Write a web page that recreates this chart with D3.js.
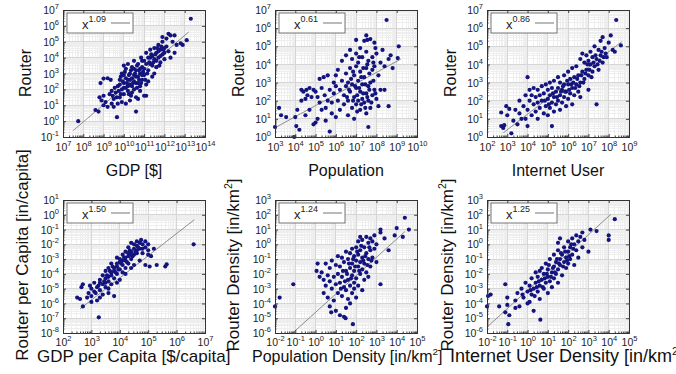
<!DOCTYPE html>
<html>
<head>
<meta charset="utf-8">
<script src="https://cdn.jsdelivr.net/npm/d3@7"></script>
<style>
  body { margin: 0; background: #fff; }
  text { font-family: "Liberation Sans", Arial, sans-serif; }
</style>
</head>
<body>
<svg id="chart" width="676" height="374"></svg>
<script>
// Values are log10 exponents: [x, y]
const gdpRouter = [
  [7.75,0.0],[8.6,0.7],[8.75,0.6],[8.85,2.4],[8.9,1.3],[9.0,1.6],[9.1,1.2],[9.0,2.68],[9.2,2.7],[9.35,2.6],
  [9.3,1.7],[9.4,1.1],[9.5,1.4],[9.2,0.9],[9.66,0.25],[9.0,1.0],[8.8,1.5],[9.4,1.9],[9.5,0.9],[9.7,1.1],
  [9.6,1.8],[9.7,2.2],[9.8,1.5],[9.8,2.6],[9.8,2.3],[9.9,2.0],[9.9,3.0],[9.9,1.2],[10.0,1.7],[10.0,2.4],
  [10.0,2.9],[10.0,3.5],[10.0,2.1],[10.1,2.1],[10.1,3.3],[10.1,1.1],[10.1,2.7],[10.2,1.9],[10.2,2.6],[10.2,3.6],
  [10.2,2.2],[10.3,2.3],[10.3,3.0],[10.3,1.3],[10.3,2.6],[10.35,1.6],[10.4,2.7],[10.4,3.4],[10.4,1.8],[10.4,2.2],
  [10.5,2.0],[10.5,2.9],[10.5,3.8],[10.5,2.5],[10.5,3.3],[10.6,2.4],[10.6,3.2],[10.6,1.5],[10.6,0.6],[10.6,2.8],
  [10.7,1.4],[10.7,2.8],[10.7,3.6],[10.7,2.4],[10.8,2.2],[10.8,3.0],[10.8,1.9],[10.8,3.3],[10.85,4.0],[10.9,2.6],
  [10.9,3.4],[10.9,2.9],[10.9,3.8],[11.0,1.6],[11.0,2.9],[11.0,3.8],[11.0,3.3],[11.1,2.3],[11.1,4.3],[11.1,1.6],
  [11.1,3.6],[11.2,3.2],[11.2,4.0],[11.2,2.5],[11.3,3.6],[11.3,4.5],[11.3,4.0],[11.4,2.8],[11.4,4.1],[11.4,3.5],
  [11.5,3.9],[11.5,4.6],[11.5,3.0],[11.6,3.4],[11.6,4.3],[11.6,3.8],[11.7,4.0],[11.7,4.8],[11.7,4.4],[11.8,3.7],
  [11.8,4.5],[11.8,4.1],[11.9,4.2],[11.9,5.0],[11.9,5.3],[12.0,3.9],[12.0,4.6],[12.0,4.3],[12.1,5.2],[12.1,4.7],
  [12.2,4.4],[12.2,5.5],[12.3,5.4],[12.3,4.0],[12.4,5.0],[12.5,4.3],[12.5,5.4],[12.6,4.8],[12.8,4.9],[12.9,4.8],
  [13.1,5.1],[13.3,6.45],
  [9.85,2.8],[9.95,2.5],[10.05,3.1],[10.15,2.4],[10.25,2.9],[10.25,1.7],[10.35,3.2],[10.45,2.4],[10.55,3.0],[10.65,2.1],
  [10.65,3.5],[10.75,2.6],[10.75,3.2],[10.85,2.4],[10.95,3.1],[11.05,2.6],[11.15,3.0],[11.25,3.7],[11.35,4.2],[11.45,3.7],
  [11.55,4.2],[11.65,4.6],[11.75,3.5],[11.85,4.7],[11.95,4.5],[9.55,2.1],[9.65,1.5],[9.75,1.9],[9.85,1.7],[9.45,1.6]
];
const popRouter = [
  [3.0,0.55],[3.2,1.6],[3.3,1.2],[3.55,1.1],[3.95,0.0],[4.0,1.1],[4.05,0.6],[4.1,1.5],[4.2,0.4],[4.3,2.0],
  [4.3,2.6],[4.4,2.5],[4.5,1.2],[4.5,2.1],[4.55,2.6],[4.6,2.3],[4.7,1.5],[4.7,2.7],[4.8,2.2],[4.9,0.7],
  [4.9,2.6],[5.0,0.8],[5.0,2.5],[5.1,1.0],[5.1,2.2],[5.2,1.9],[5.2,3.2],[5.3,1.5],[5.3,2.7],[5.4,3.3],
  [5.45,2.3],[5.5,0.9],[5.5,1.6],[5.6,2.0],[5.6,3.4],[5.7,0.3],[5.7,2.6],[5.8,1.3],[5.8,1.9],[5.9,3.0],
  [5.9,2.4],[6.0,1.1],[6.0,3.4],[6.0,2.8],[6.1,2.0],[6.1,3.7],[6.2,2.6],[6.2,1.5],[6.3,3.1],[6.3,4.2],
  [6.4,2.3],[6.4,1.8],[6.5,3.5],[6.5,2.8],[6.5,4.5],[6.6,2.0],[6.6,3.0],[6.6,1.2],[6.7,2.5],[6.7,3.8],
  [6.7,4.8],[6.8,1.6],[6.8,2.9],[6.8,4.3],[6.9,2.2],[6.9,3.4],[6.9,1.0],[7.0,2.7],[7.0,3.9],[7.0,4.6],
  [7.0,1.8],[7.0,5.35],[7.1,2.0],[7.1,3.1],[7.1,4.1],[7.2,2.5],[7.2,3.6],[7.2,1.5],[7.2,4.9],[7.3,2.1],
  [7.3,2.9],[7.3,4.4],[7.4,1.9],[7.4,3.3],[7.4,5.3],[7.5,2.4],[7.5,3.8],[7.5,1.3],[7.5,4.7],[7.5,5.6],
  [7.55,5.35],[7.6,2.8],[7.6,2.0],[7.6,4.2],[7.6,0.55],[7.7,3.0],[7.7,5.4],[7.7,1.6],[7.8,2.3],[7.8,3.7],
  [7.8,4.4],[7.9,2.6],[7.9,5.2],[7.9,3.9],[8.0,2.1],[8.0,4.6],[8.1,3.4],[8.1,1.7],[8.2,4.1],[8.2,2.6],
  [8.3,4.8],[8.4,2.6],[8.4,3.9],[8.5,6.45],[8.6,4.3],[8.6,1.7],[8.7,4.5],[8.8,3.8],[9.05,4.35],[9.1,5.0],
  [6.55,2.2],[6.65,2.6],[6.75,3.2],[6.85,2.0],[6.95,2.8],[7.05,2.3],[7.15,2.7],[7.25,1.8],[7.35,2.4],[7.45,2.9],
  [7.55,2.2],[7.65,2.6],[7.75,1.9],[7.85,3.1],[7.95,2.4],[7.25,3.3],[7.45,1.6],[7.05,1.4],[6.85,3.6],[7.35,3.8],
  [7.65,3.5],[7.85,4.1],[7.15,4.4],[7.55,4.0],[7.95,4.9]
];
const userRouter = [
  [2.7,1.35],[2.7,0.6],[2.85,0.65],[3.0,1.2],[3.1,1.55],[3.2,0.2],[2.95,1.7],[2.8,0.5],[3.3,0.9],[3.4,1.5],
  [3.5,0.7],[3.6,1.3],[3.6,2.0],[3.7,1.0],[3.8,1.7],[3.9,1.0],[3.9,2.3],[4.0,3.3],[4.0,1.5],[4.0,0.6],
  [4.1,2.0],[4.1,2.6],[4.2,1.2],[4.2,2.3],[4.3,1.8],[4.3,2.7],[4.4,1.4],[4.4,2.2],[4.5,1.9],[4.5,2.6],
  [4.5,1.0],[4.6,2.3],[4.6,1.6],[4.7,2.0],[4.7,2.8],[4.8,1.3],[4.8,2.4],[4.9,1.7],[4.9,2.9],[5.0,2.1],
  [5.0,1.2],[5.0,2.6],[5.1,1.6],[5.1,3.0],[5.1,2.3],[5.2,0.6],[5.2,1.9],[5.2,2.7],[5.3,1.4],[5.3,2.2],
  [5.3,3.1],[5.4,2.5],[5.4,1.8],[5.5,2.0],[5.5,3.3],[5.5,2.7],[5.6,1.5],[5.6,2.3],[5.6,3.0],[5.7,2.6],
  [5.7,1.9],[5.8,2.2],[5.8,3.4],[5.8,2.9],[5.9,1.7],[5.9,2.5],[6.0,2.9],[6.0,3.6],[6.0,2.1],[6.1,2.4],
  [6.1,3.2],[6.2,2.7],[6.2,3.8],[6.2,1.8],[6.3,2.3],[6.3,3.3],[6.4,2.9],[6.4,3.9],[6.5,2.5],[6.5,3.4],
  [6.6,3.0],[6.6,4.3],[6.6,2.2],[6.7,3.6],[6.7,4.6],[6.8,3.2],[6.8,4.1],[6.9,3.7],[6.9,4.5],[7.0,3.4],
  [7.0,4.2],[7.0,2.6],[7.1,4.0],[7.1,4.7],[7.2,3.6],[7.2,4.4],[7.3,3.9],[7.3,5.0],[7.4,4.3],[7.4,1.8],
  [7.5,3.7],[7.5,4.8],[7.6,4.5],[7.6,5.3],[7.7,4.1],[7.7,5.5],[7.8,4.9],[7.9,4.4],[8.0,5.2],[8.1,5.6],
  [8.2,4.8],[8.37,6.45],[8.3,4.7],[8.6,5.05],
  [5.65,2.5],[5.75,2.8],[5.85,2.5],[5.95,3.1],[6.05,2.6],[6.15,2.9],[6.25,3.0],[6.35,2.7],[6.45,3.2],[6.55,2.8],
  [6.65,3.4],[6.75,3.0],[6.85,3.5],[6.95,4.0],[7.05,3.7],[7.15,3.3],[7.25,4.1],[7.35,4.5],[7.45,4.0],[7.55,4.2],
  [7.65,4.7],[7.75,4.4],[7.85,4.6],[4.85,2.0],[5.05,1.8],[5.25,2.4],[5.45,2.2]
];
const gdpCapRouterCap = [
  [2.5,-5.6],[2.6,-5.7],[2.7,-4.7],[2.65,-4.9],[2.7,-6.2],[3.26,-6.94],[2.9,-5.3],[3.0,-5.0],[3.0,-5.5],[3.0,-5.9],
  [3.1,-4.6],[3.1,-5.2],[3.2,-4.9],[3.2,-5.8],[3.3,-4.4],[3.3,-5.1],[3.3,-4.6],[3.3,-5.6],[3.4,-4.7],[3.4,-4.1],
  [3.4,-5.4],[3.5,-4.3],[3.5,-4.9],[3.5,-3.8],[3.5,-4.6],[3.6,-4.5],[3.6,-3.6],[3.6,-5.0],[3.6,-4.2],[3.6,-5.3],
  [3.7,-4.1],[3.7,-3.3],[3.7,-4.7],[3.7,-3.9],[3.8,-3.8],[3.8,-5.5],[3.8,-4.3],[3.8,-3.6],[3.9,-3.5],[3.9,-4.0],
  [3.9,-2.9],[3.9,-3.3],[3.9,-4.6],[4.0,-3.7],[4.0,-3.2],[4.0,-4.4],[4.0,-3.0],[4.1,-3.4],[4.1,-2.7],[4.1,-3.9],
  [4.1,-3.1],[4.2,-3.1],[4.2,-2.5],[4.2,-3.6],[4.2,-2.9],[4.2,-4.0],[4.3,-2.8],[4.3,-2.2],[4.3,-3.3],[4.3,-2.6],
  [4.4,-2.5],[4.4,-3.0],[4.4,-1.9],[4.4,-2.7],[4.4,-3.6],[4.5,-2.3],[4.5,-2.7],[4.5,-3.4],[4.5,-2.0],[4.6,-2.1],
  [4.6,-2.6],[4.6,-1.8],[4.6,-2.4],[4.7,-2.3],[4.7,-3.1],[4.7,-1.9],[4.75,-1.7],[4.8,-2.0],[4.8,-2.6],[4.8,-2.3],
  [4.9,-2.2],[4.9,-3.4],[4.9,-1.8],[5.0,-2.4],[5.0,-2.0],[5.0,-2.7],[5.1,-2.8],[5.05,-3.5],[5.2,-2.3],[5.3,-3.4],
  [5.6,-3.5],[5.65,-3.35],[6.6,-2.0],
  [3.45,-4.5],[3.55,-4.1],[3.65,-3.8],[3.75,-3.5],[3.85,-3.9],[3.95,-3.7],[4.05,-3.3],[4.15,-2.9],[4.25,-3.2],[4.35,-2.4],
  [4.45,-2.8],[4.55,-2.5],[4.65,-2.2],[3.15,-5.3],[3.25,-4.8],[2.85,-5.6],[2.95,-4.8]
];
const popDensRouterDens = [
  [-2.0,-4.2],[-1.77,-3.6],[-1.1,-2.7],[0.05,-1.8],[0.1,-1.3],[0.2,-2.2],[0.3,-1.9],[0.4,-2.4],[0.4,-3.3],[0.5,-1.3],
  [0.5,-2.8],[0.6,-2.1],[0.6,-3.6],[0.7,-1.6],[0.7,-2.5],[0.7,-4.2],[0.77,-4.6],[0.8,-3.0],[0.8,-1.1],[0.9,-2.2],
  [0.9,-3.8],[1.0,-2.7],[1.0,-1.4],[1.0,-4.5],[1.1,-0.8],[1.1,-2.0],[1.1,-3.3],[1.2,-1.5],[1.2,-2.6],[1.2,-4.8],
  [1.3,-0.9],[1.3,-2.2],[1.3,-3.5],[1.4,-1.2],[1.4,-2.9],[1.4,-4.9],[1.48,-5.0],[1.5,-0.5],[1.5,-1.8],[1.5,-3.1],
  [1.5,-4.3],[1.6,-1.0],[1.6,-2.4],[1.6,-3.7],[1.7,-0.6],[1.7,-1.6],[1.7,-2.8],[1.7,-4.0],[1.8,-0.3],[1.8,-1.3],
  [1.8,-2.1],[1.8,-3.3],[1.84,-5.4],[1.9,-0.8],[1.9,-1.8],[1.9,-2.6],[1.9,-3.0],[2.0,-0.2],[2.0,-1.1],[2.0,-2.3],
  [2.0,-3.6],[2.1,0.2],[2.1,-0.7],[2.1,-1.5],[2.1,-2.8],[2.2,-0.4],[2.2,-1.2],[2.2,-2.0],[2.2,0.5],[2.3,0.3],
  [2.3,-0.9],[2.3,-1.7],[2.3,-3.1],[2.4,-0.2],[2.4,-1.3],[2.4,-2.4],[2.5,0.5],[2.5,-0.6],[2.5,-1.9],[2.6,0.1],
  [2.6,-1.0],[2.6,-2.2],[2.7,0.4],[2.7,-0.4],[2.7,-1.5],[2.8,0.2],[2.8,-0.9],[2.9,-0.3],[2.9,0.6],[3.0,-1.2],
  [3.0,0.0],[3.2,1.0],[3.2,0.8],[3.2,-2.7],[3.4,0.4],[3.6,-0.4],[3.9,0.6],[4.0,1.1],[4.3,0.5],[4.4,1.8],[4.6,1.0],
  [1.55,-2.0],[1.65,-1.3],[1.75,-2.3],[1.85,-1.0],[1.95,-1.5],[2.05,-0.5],[2.15,-1.8],[2.25,-0.1],[2.35,-1.1],[2.45,-0.8],
  [2.55,-1.4],[1.45,-2.5],[1.35,-1.8],[1.25,-3.0],[2.65,-0.2],[2.75,-1.1]
];
const userDensRouterDens = [
  [-1.95,-3.5],[-1.82,-3.4],[-2.0,-4.2],[-1.4,-4.2],[-1.1,-2.7],[-1.0,-3.6],[-1.0,-4.1],[-0.9,-4.8],[-1.1,-4.6],[-0.95,-5.4],
  [-0.6,-3.8],[-0.6,-4.3],[-0.5,-3.3],[-0.4,-4.2],[-0.3,-3.0],[-0.25,-3.4],[-0.2,-3.6],[-0.1,-2.6],[0.0,-3.2],[0.0,-4.0],
  [0.1,-2.8],[0.1,-3.9],[0.2,-3.4],[0.2,-2.3],[0.3,-3.0],[0.3,-4.5],[0.4,-2.6],[0.4,-1.9],[0.5,-3.2],[0.5,-2.2],
  [0.6,-2.8],[0.6,-3.7],[0.6,-1.8],[0.63,-5.1],[0.7,-2.4],[0.7,-1.6],[0.8,-3.0],[0.8,-2.0],[0.9,-2.6],[0.9,-1.3],
  [1.0,-2.2],[1.0,-3.3],[1.0,-1.7],[1.1,-2.5],[1.1,-1.0],[1.2,-1.9],[1.2,-2.9],[1.3,-1.5],[1.3,-2.3],[1.3,-0.7],
  [1.4,-1.2],[1.4,-2.0],[1.5,-1.7],[1.5,-0.4],[1.5,-2.6],[1.5,0.1],[1.6,-1.0],[1.6,-1.4],[1.6,0.4],[1.7,-0.7],
  [1.7,-2.1],[1.8,-1.2],[1.8,-0.2],[1.9,-0.9],[1.9,-1.6],[2.0,-0.5],[2.0,0.2],[2.0,-1.3],[2.1,-0.2],[2.1,-1.0],
  [2.2,0.4],[2.2,-0.7],[2.3,0.0],[2.3,-1.4],[2.4,0.6],[2.4,-0.4],[2.5,0.2],[2.5,-0.9],[2.6,0.5],[2.7,-0.2],
  [2.7,0.8],[2.8,0.3],[3.0,-0.5],[3.1,1.0],[3.4,0.9],[4.0,0.6],[4.0,0.3],[4.3,1.7],
  [0.75,-2.9],[0.85,-2.3],[0.95,-2.0],[1.05,-1.4],[1.15,-2.2],[1.25,-1.6],[1.35,-1.9],[1.45,-1.0],[1.55,-1.3],[1.65,-0.6],
  [1.75,-1.5],[1.85,-0.5],[1.95,-1.1],[2.05,-0.8],[2.15,0.0],[2.25,-0.3],[0.45,-2.9],[0.55,-2.5],[0.35,-3.5],[0.15,-3.1]
];

const seriesList = [gdpRouter, popRouter, userRouter, gdpCapRouterCap, popDensRouterDens, userDensRouterDens];
const xDomains = [[7,14],[3,10],[2,9],[2,7],[-2,5],[-2,5]];
const yDomains = [[-1,7],[0,7],[0,7],[-8,1],[-6,3],[-6,3]];
const fitExponents = ["1.09","0.61","0.86","1.50","1.24","1.25"];
const fitIntercepts = [-8.77,-1.32,-2.18,-10.27,-4.6,-3.1];
const fitRanges = [[7.5,13.2],[3,9.2],[2.8,8.65],[2.6,6.62],[-1.13,4.4],[-2,4.1]];
const xTitles = [["GDP [$]"],["Population"],["Internet User"],["GDP per Capita [$/capita]"],["Population Density [in/km","2","]"],["Internet User Density [in/km","2","]"]];
const yTitles = [["Router"],["Router"],["Router"],["Router per Capita [in/capita]"],["Router Density [in/km","2","]"],["Router Density [in/km","2","]"]];

// layout (pixels)
const frames = [
  {x:63,y:10,w:142,h:127},{x:275,y:10,w:142,h:127},{x:487,y:10,w:142,h:127},
  {x:63,y:200,w:142,h:133},{x:275,y:200,w:142,h:133},{x:487,y:200,w:142,h:133}
];
const xTitleStyle = [
  {x:134,y:176,size:16,anchor:"middle"},{x:346,y:176,size:16,anchor:"middle"},{x:558,y:176,size:16,anchor:"middle"},
  {x:37,y:362,size:17,anchor:"start"},{x:252,y:362,size:16,anchor:"start"},{x:450,y:362,size:18,anchor:"start"}
];
const yTitleStyle = [
  {x:31,y:73,size:16},{x:244,y:73,size:16},{x:456,y:73,size:16},
  {x:28,y:255,size:17},{x:239,y:265,size:17},{x:453,y:265,size:17}
];

const svg = d3.select("#chart");
const dotColor = "#14147e";

function decadeTicks(lo, hi) {
  const major = d3.range(lo, hi + 1).map(e => Math.pow(10, e));
  const minor = [];
  for (let e = lo; e < hi; e++) {
    for (let m = 2; m <= 9; m++) minor.push(m * Math.pow(10, e));
  }
  return { major, minor };
}

function addPower(sel, size) {
  // turn plain tick text into 10 with a raised exponent
  sel.each(function (d) {
    const t = d3.select(this);
    const e = Math.round(Math.log10(d));
    t.text("10");
    t.append("tspan").attr("dy", -5).attr("font-size", size).text(e);
  });
}

function titleText(g, parts, size) {
  g.append("tspan").text(parts[0]);
  if (parts.length > 1) {
    g.append("tspan").attr("dy", -7).attr("font-size", size * 0.62).text(parts[1]);
    g.append("tspan").attr("dy", 7).text(parts[2]);
  }
}

function drawPanel(i) {
  const f = frames[i];
  const [xl, xh] = xDomains[i];
  const [yl, yh] = yDomains[i];
  const x = d3.scaleLog().domain([Math.pow(10, xl), Math.pow(10, xh)]).range([f.x, f.x + f.w]);
  const y = d3.scaleLog().domain([Math.pow(10, yl), Math.pow(10, yh)]).range([f.y + f.h, f.y]);
  const xt = decadeTicks(xl, xh);
  const yt = decadeTicks(yl, yh);
  const g = svg.append("g");

  g.append("rect").attr("x", f.x).attr("y", f.y).attr("width", f.w).attr("height", f.h).attr("fill", "#fff");

  // grid, minor first then decades
  const grid = g.append("g").attr("shape-rendering", "crispEdges");
  grid.selectAll(".vmin").data(xt.minor).enter().append("line")
    .attr("x1", d => x(d)).attr("x2", d => x(d)).attr("y1", f.y).attr("y2", f.y + f.h)
    .attr("stroke", "#eeeeee");
  grid.selectAll(".hmin").data(yt.minor).enter().append("line")
    .attr("y1", d => y(d)).attr("y2", d => y(d)).attr("x1", f.x).attr("x2", f.x + f.w)
    .attr("stroke", "#eeeeee");
  grid.selectAll(".vmaj").data(xt.major).enter().append("line")
    .attr("x1", d => x(d)).attr("x2", d => x(d)).attr("y1", f.y).attr("y2", f.y + f.h)
    .attr("stroke", "#d6d6d6");
  grid.selectAll(".hmaj").data(yt.major).enter().append("line")
    .attr("y1", d => y(d)).attr("y2", d => y(d)).attr("x1", f.x).attr("x2", f.x + f.w)
    .attr("stroke", "#d6d6d6");

  // fit line
  const [fa, fb] = fitRanges[i];
  const k = +fitExponents[i], c = fitIntercepts[i];
  g.append("line")
    .attr("x1", x(Math.pow(10, fa))).attr("y1", y(Math.pow(10, k * fa + c)))
    .attr("x2", x(Math.pow(10, fb))).attr("y2", y(Math.pow(10, k * fb + c)))
    .attr("stroke", "#8c8c8c").attr("stroke-width", 1);

  // points
  g.append("g").selectAll("circle").data(seriesList[i]).enter().append("circle")
    .attr("cx", d => x(Math.pow(10, d[0])))
    .attr("cy", d => y(Math.pow(10, d[1])))
    .attr("r", 2.1)
    .attr("fill", dotColor);

  // axes: ticks inside on all four sides
  const bottom = g.append("g").attr("transform", `translate(0,${f.y + f.h})`)
    .call(d3.axisBottom(x).tickValues(xt.major).tickSizeInner(-3).tickSizeOuter(0).tickPadding(5));
  const left = g.append("g").attr("transform", `translate(${f.x},0)`)
    .call(d3.axisLeft(y).tickValues(yt.major).tickSizeInner(-3).tickSizeOuter(0).tickPadding(4));
  g.append("g").attr("transform", `translate(0,${f.y + f.h})`)
    .call(d3.axisBottom(x).tickValues(xt.minor).tickSizeInner(-1.5).tickSizeOuter(0).tickFormat(""));
  g.append("g").attr("transform", `translate(${f.x},0)`)
    .call(d3.axisLeft(y).tickValues(yt.minor).tickSizeInner(-1.5).tickSizeOuter(0).tickFormat(""));
  g.append("g").attr("transform", `translate(0,${f.y})`)
    .call(d3.axisTop(x).tickValues(xt.major).tickSizeInner(-3).tickSizeOuter(0).tickFormat(""));
  g.append("g").attr("transform", `translate(${f.x + f.w},0)`)
    .call(d3.axisRight(y).tickValues(yt.major).tickSizeInner(-3).tickSizeOuter(0).tickFormat(""));
  g.selectAll(".domain").remove();
  g.selectAll(".tick line").attr("stroke", "#444");

  bottom.selectAll(".tick text").attr("font-size", 10.5).attr("fill", "#222")
    .attr("dy", null).attr("y", i < 3 ? 14 : 12.5).call(addPower, 7.5);
  left.selectAll(".tick text").attr("font-size", 10.5).attr("fill", "#222")
    .attr("dy", "0.34em").call(addPower, 7.5);

  // frame
  g.append("rect").attr("x", f.x).attr("y", f.y).attr("width", f.w).attr("height", f.h)
    .attr("fill", "none").attr("stroke", "#333").attr("stroke-width", 1)
    .attr("shape-rendering", "crispEdges");

  // legend box
  const lg = g.append("g").attr("transform", `translate(${f.x + 4},${f.y + 3})`);
  lg.append("rect").attr("width", 66).attr("height", 20)
    .attr("fill", "#fff").attr("stroke", "#555").attr("stroke-width", 0.8);
  const lt = lg.append("text").attr("x", 15).attr("y", 16).attr("font-size", 13).attr("fill", "#222").text("x");
  lt.append("tspan").attr("dy", -7).attr("font-size", 9).text(fitExponents[i]);
  lg.append("line").attr("x1", 44).attr("x2", 63).attr("y1", 10).attr("y2", 10)
    .attr("stroke", "#8c8c8c").attr("stroke-width", 1.2);

  // titles
  const xs = xTitleStyle[i];
  const xtTxt = svg.append("text").attr("x", xs.x).attr("y", xs.y).attr("font-size", xs.size)
    .attr("text-anchor", xs.anchor).attr("fill", "#111");
  titleText(xtTxt, xTitles[i], xs.size);
  const ys = yTitleStyle[i];
  const ytTxt = svg.append("text").attr("transform", `translate(${ys.x},${ys.y}) rotate(-90)`)
    .attr("font-size", ys.size).attr("text-anchor", "middle").attr("fill", "#111");
  titleText(ytTxt, yTitles[i], ys.size);
}

seriesList.forEach((_, i) => drawPanel(i));
</script>
</body>
</html>
